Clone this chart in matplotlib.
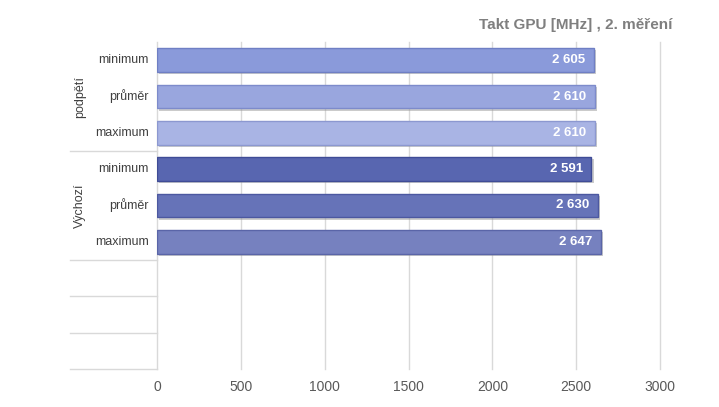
import matplotlib
matplotlib.use("Agg")
import matplotlib.pyplot as plt
import matplotlib.patheffects as pe

groups = ["podpětí", "Výchozí"]
categories = ["minimum", "průměr", "maximum", "minimum", "průměr", "maximum"]
values = [2605, 2610, 2610, 2591, 2630, 2647]
value_labels = ["2 605", "2 610", "2 610", "2 591", "2 630", "2 647"]
colors = ["#8a9ada", "#99a6de", "#a9b4e4", "#5866b0", "#6673b8", "#7681bf"]
edge_colors = ["#6f7fc4", "#7d8bcb", "#8c98d0", "#3f4c96", "#4c58a0", "#5a65a8"]
title = "Takt GPU [MHz] , 2. měření"
xticks = [0, 500, 1000, 1500, 2000, 2500, 3000]
n_slots = 9

plt.rcParams['font.family'] = ['Liberation Sans', 'DejaVu Sans']

fig = plt.figure(figsize=(7.19, 4.07), dpi=100)
W, H = 719, 407
x0, x1, ytop, ybot = 157, 660, 42, 369
ax = fig.add_axes([x0 / W, 1 - ybot / H, (x1 - x0) / W, (ybot - ytop) / H])
ax.set_xlim(0, 3000)
ax.set_ylim(n_slots, 0)

pos = [i + 0.5 for i in range(len(values))]
bars = ax.barh(pos, values, height=0.66, color=colors, edgecolor=edge_colors,
               linewidth=1.0, zorder=3)
for b in bars:
    b.set_path_effects([pe.SimplePatchShadow(offset=(1.5, -1.5), shadow_rgbFace='#999999', alpha=0.5),
                        pe.Normal()])
for p, v, lab in zip(pos, values, value_labels):
    ax.annotate(lab, (v, p), xytext=(-6, 0), textcoords='offset points',
                ha='right', va='center', color='white', fontsize=9.5,
                fontweight='bold', zorder=4)

ax.set_xticks(xticks)
ax.set_xticklabels([str(t) for t in xticks], fontsize=10, color='#595959')
ax.tick_params(axis='x', length=0, pad=8)
ax.set_yticks([])
for t in xticks[1:]:
    ax.axvline(t, color='#d9d9d9', linewidth=1, zorder=0, clip_on=False)
for s in ['top', 'right', 'bottom']:
    ax.spines[s].set_visible(False)
ax.spines['left'].set_color('#d9d9d9')
ax.spines['left'].set_linewidth(1)

# category labels
for p, c in zip(pos, categories):
    ax.text(-8 / (x1 - x0) * 3000, p, c, ha='right', va='center', fontsize=9,
            color='#404040', clip_on=False)

# group separators
trans = ax.get_yaxis_transform()
xl = (70 - x0) / (x1 - x0)
for yb in [3, 6, 7, 8, 9]:
    ax.plot([xl, 0], [yb, yb], transform=trans, color='#d9d9d9', linewidth=1,
            clip_on=False)
for gi, g in enumerate(groups):
    ax.text((80 - x0) / (x1 - x0), gi * 3 + 1.5, g, transform=trans, rotation=90,
            ha='center', va='center', fontsize=9, color='#404040', clip_on=False)

fig.text(672 / W, 1 - 25 / H, title, ha='right', va='center', fontsize=11,
         fontweight='bold', color='#7f7f7f')

fig.savefig('out.png', dpi=100)
